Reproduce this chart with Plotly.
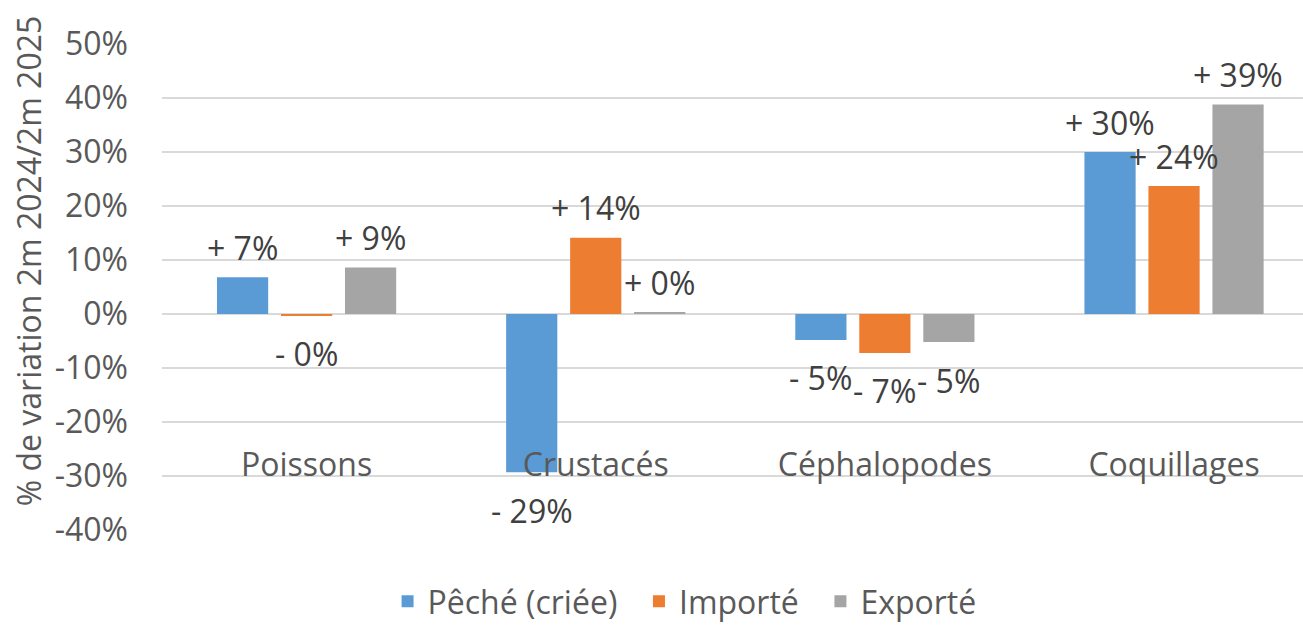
import plotly.graph_objects as go

categories = ["Poissons", "Crustacés", "Céphalopodes", "Coquillages"]
series_names = ["Pêché (criée)", "Importé", "Exporté"]
peche = [6.8, -29.3, -4.8, 30.0]
importe = [-0.3, 14.1, -7.2, 23.7]
exporte = [8.6, 0.2, -5.2, 38.8]
colors = ["#5B9BD5", "#ED7D31", "#A5A5A5"]
y_ticks = [-40, -30, -20, -10, 0, 10, 20, 30, 40, 50]

FONT = "Open Sans"
BARGAP = 0.336
BARGROUPGAP = 0.2
PAD = "\u00a0\u00a0"  # spacing between legend entries


def fmt(v):
    sign = "+" if v >= 0 else "-"
    return f"{sign} {abs(round(v)):.0f}%"


fig = go.Figure()
all_series = [peche, importe, exporte]
for k, (name, vals, col) in enumerate(zip(series_names, all_series, colors)):
    label = name + (PAD if k < len(series_names) - 1 else "")
    fig.add_trace(go.Bar(x=categories, y=vals, name=label, marker=dict(color=col, line=dict(width=0))))

annotations = []
slot = (1 - BARGAP) / len(all_series)
for k, vals in enumerate(all_series):
    off = (k - (len(all_series) - 1) / 2) * slot
    for i, v in enumerate(vals):
        annotations.append(dict(
            x=i + off, y=v, xref="x", yref="y", text=fmt(v), showarrow=False,
            xanchor="center", yanchor="middle", yshift=30 if v >= 0 else -38,
            font=dict(family=FONT, size=32, color="#404040"),
        ))

annotations.append(dict(
    x=-0.1174, y=0.553, xref="paper", yref="paper", text="% de variation 2m 2024/2m 2025",
    showarrow=False, textangle=-90, xanchor="center", yanchor="middle",
    font=dict(family=FONT, size=32, color="#595959"),
))

fig.update_layout(
    width=1303, height=629,
    margin=dict(l=162, r=0, t=44, b=99),
    plot_bgcolor="white", paper_bgcolor="white",
    barmode="group", bargap=BARGAP, bargroupgap=BARGROUPGAP,
    font=dict(family=FONT, size=32, color="#595959"),
    showlegend=True,
    legend=dict(orientation="h", x=0.458, xanchor="center", xref="paper",
                y=-0.008, yanchor="bottom", yref="container",
                font=dict(family=FONT, size=32, color="#595959"), traceorder="normal"),
    annotations=annotations,
    xaxis=dict(type="category", range=[-0.5, 3.446], showgrid=False, showline=False, zeroline=False,
               anchor="free", position=0.179, ticks="", tickfont=dict(family=FONT, size=32, color="#595959")),
    yaxis=dict(range=[-40, 50], tickvals=y_ticks, ticktext=[f"{t}%" for t in y_ticks],
               showgrid=True, gridcolor="#D9D9D9", gridwidth=1.5, zeroline=False, showline=False,
               ticks="", ticklabelstandoff=33, tickfont=dict(family=FONT, size=32, color="#595959")),
)

fig.write_html("out.html", config={"displayModeBar": False},
               post_script="document.body.style.margin='0';document.body.style.padding='0';")
